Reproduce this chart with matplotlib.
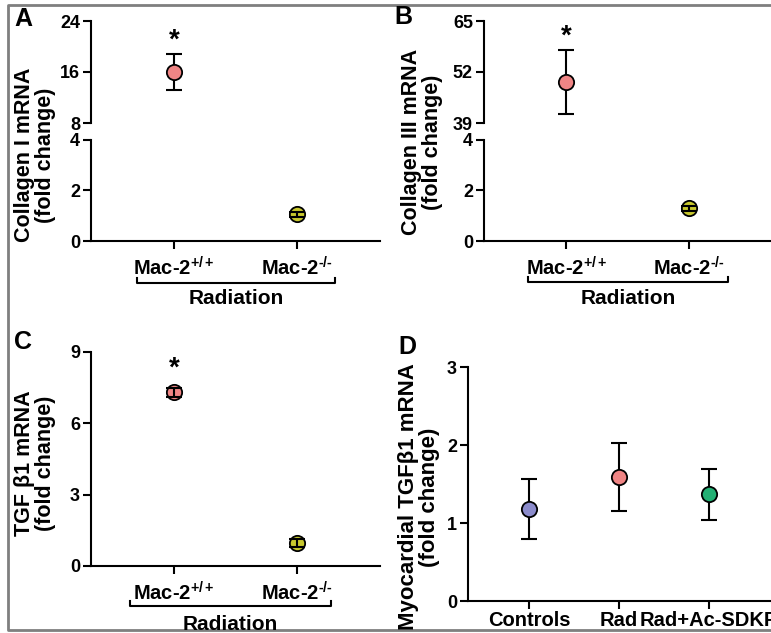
import numpy as np
import matplotlib.pyplot as plt
from matplotlib.lines import Line2D

plt.rcParams['font.family'] = ['Liberation Sans', 'DejaVu Sans']
plt.rcParams['font.weight'] = 'bold'
plt.rcParams['mathtext.fontset'] = 'custom'
plt.rcParams['mathtext.rm'] = 'Liberation Sans:bold'
plt.rcParams['mathtext.it'] = 'Liberation Sans:bold'
plt.rcParams['mathtext.bf'] = 'Liberation Sans:bold'

W, H = 771, 633

# panels A-C: two groups under radiation
groups = ['Mac-2$^{+/+}$', 'Mac-2$^{\\text{-/-}}$']
col1_mean = [16.0, 1.05]
col1_err = [2.9, 0.1]
col3_mean = [49.5, 1.3]
col3_err = [8.2, 0.1]
tgf_mean = [7.3, 0.97]
tgf_err = [0.2, 0.15]
group_colors = ['#F08585', '#C8C82E']

# panel D
d_groups = ['Controls', 'Rad', 'Rad+Ac-SDKP']
d_mean = [1.18, 1.59, 1.37]
d_upper = [1.56, 2.03, 1.69]
d_lower = [0.79, 1.15, 1.04]
d_colors = ['#8C8CCC', '#F08585', '#23B074']


def box(x0, y0, x1, y1):
    # pixel box (left, top, right, bottom) -> figure fraction rect
    return [x0 / W, 1 - y1 / H, (x1 - x0) / W, (y1 - y0) / H]


def fpt(x, y):
    return x / W, 1 - y / H


def style(ax):
    for s in ['top', 'right']:
        ax.spines[s].set_visible(False)
    for s in ['left', 'bottom']:
        ax.spines[s].set_linewidth(1.5)
    ax.tick_params(width=1.5, length=6)
    ax.tick_params(axis='y', labelsize=13, pad=2)
    ax.tick_params(axis='x', labelsize=14.5)


def draw_points(ax, x, means, errs, colors, on_top):
    for i in range(len(x)):
        z = 4 if on_top[i] else 2
        ax.errorbar(x[i], means[i], yerr=errs[i], fmt='none', ecolor='black',
                    elinewidth=1.5, capsize=6, capthick=1.5, zorder=z, clip_on=False)
        ax.plot(x[i], means[i], 'o', ms=11, mfc=colors[i], mec='black', mew=1.3,
                zorder=3, clip_on=False)


fig = plt.figure(figsize=(W / 100, H / 100), dpi=100)


def broken_panel(left, right, top_lim, top_ticks, means, errs):
    lo = fig.add_axes(box(left, 140, right, 241))
    hi = fig.add_axes(box(left, 21, right, 123), sharex=lo)
    x = np.arange(len(groups))
    for ax in (lo, hi):
        style(ax)
        ax.patch.set_alpha(0)
        ax.set_xlim(-0.675, 1.675)
    lo.set_ylim(0, 4)
    lo.set_yticks([0, 2, 4])
    hi.set_ylim(top_lim)
    hi.set_yticks(top_ticks)
    hi.spines['bottom'].set_visible(False)
    hi.tick_params(axis='x', bottom=False, labelbottom=False)
    lo.set_xticks(x)
    lo.set_xticklabels(groups)
    lo.tick_params(axis='x', pad=5)
    draw_points(hi, [x[0]], [means[0]], [errs[0]], [group_colors[0]], [False])
    draw_points(lo, [x[1]], [means[1]], [errs[1]], [group_colors[1]], [True])
    hi.text(0, means[0] + errs[0], '*', ha='center', va='bottom', fontsize=20,
            fontweight='bold')
    return lo, hi


# panel A
broken_panel(91, 380, (8, 24), [8, 16, 24], col1_mean, col1_err)
# panel B
broken_panel(484, 771, (39, 65), [39, 52, 65], col3_mean, col3_err)

# panel C
axc = fig.add_axes(box(91, 352, 380, 566))
style(axc)
xc = np.arange(len(groups))
axc.set_xlim(-0.675, 1.675)
axc.set_ylim(0, 9)
axc.set_yticks([0, 3, 6, 9])
axc.set_xticks(xc)
axc.set_xticklabels(groups)
axc.tick_params(axis='x', pad=5)
draw_points(axc, xc, tgf_mean, tgf_err, group_colors, [True, True])
axc.text(0, tgf_mean[0] + 0.45, '*', ha='center', va='bottom', fontsize=20,
         fontweight='bold')

# panel D
axd = fig.add_axes(box(468, 367, 771, 601))
style(axd)
xd = np.arange(len(d_groups))
axd.set_xlim(-0.68, 2.69)
axd.set_ylim(0, 3)
axd.set_yticks([0, 1, 2, 3])
axd.set_xticks(xd)
axd.set_xticklabels(d_groups)
axd.tick_params(axis='x', pad=1)
d_err = [np.array(d_mean) - np.array(d_lower), np.array(d_upper) - np.array(d_mean)]
for i in range(len(xd)):
    axd.errorbar(xd[i], d_mean[i], yerr=[[d_err[0][i]], [d_err[1][i]]], fmt='none',
                 ecolor='black', elinewidth=1.5, capsize=6, capthick=1.5, zorder=2)
    axd.plot(xd[i], d_mean[i], 'o', ms=11, mfc=d_colors[i], mec='black', mew=1.3, zorder=3)

# y labels
ylab_kw = dict(rotation=90, ha='center', va='center', fontweight='bold',
               linespacing=0.95)
fig.text(*fpt(35, 155), 'Collagen I mRNA\n(fold change)', fontsize=15.5, **ylab_kw)
fig.text(*fpt(422, 142), 'Collagen III mRNA\n(fold change)', fontsize=15.5, **ylab_kw)
fig.text(*fpt(35, 463), 'TGF \u03b21 mRNA\n(fold change)', fontsize=15.5, **ylab_kw)
fig.text(*fpt(419, 497), 'Myocardial TGF\u03b21 mRNA\n(fold change)', fontsize=16, **ylab_kw)

# panel letters
for (px, py, s) in [(23, 19, 'A'), (403, 17, 'B'), (23, 342, 'C'), (407, 347, 'D')]:
    fig.text(*fpt(px, py), s, ha='center', va='center', fontsize=18, fontweight='bold')

# radiation brackets
for (x0, x1, yb, yt) in [(137, 335, 283, 296), (528, 728, 282, 296), (130, 331, 606, 622)]:
    xs = [x0 / W, x0 / W, x1 / W, x1 / W]
    ys = [1 - (yb - 5) / H, 1 - yb / H, 1 - yb / H, 1 - (yb - 5) / H]
    fig.add_artist(Line2D(xs, ys, color='black', lw=1.5))
    fig.text(*fpt((x0 + x1) / 2, yt + 2), 'Radiation', ha='center', va='center',
             fontsize=15, fontweight='bold')

# grey frame
fig.add_artist(Line2D([1.0, 8 / W, 8 / W, 1.0],
                      [1 - 5 / H, 1 - 5 / H, 1 - 630 / H, 1 - 630 / H],
                      color='#7f7f7f', lw=2))

fig.savefig('out.png', dpi=100)
